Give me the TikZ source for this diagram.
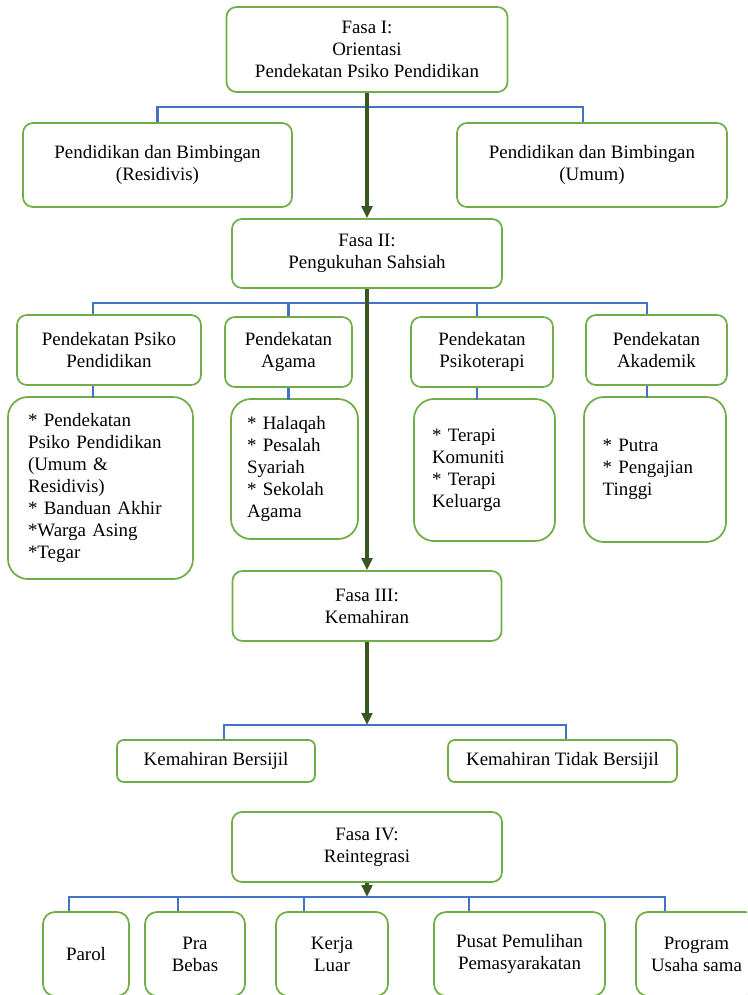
\documentclass[tikz,border=0pt]{standalone}
\usepackage{fontspec}
\setmainfont{Liberation Serif}
\usepackage{tikz}
\usetikzlibrary{arrows.meta}
\usetikzlibrary{positioning}
\usepackage{xcolor}

\definecolor{boxgreen}{RGB}{112,173,71}
\definecolor{linkblue}{RGB}{68,114,196}
\definecolor{trunkgreen}{RGB}{56,87,35}

\begin{document}
\begin{tikzpicture}[x=0.75pt,y=-0.75pt,font=\fontsize{14.2}{16.4}\selectfont]
  \tikzset{fasa/.style = {shape=rectangle,draw=boxgreen,line width=1.3pt,rounded corners=7.5pt,minimum width=202.5pt,minimum height=52.5pt,align=center,inner sep=2pt}}
    \tikzset{sub/.style = {shape=rectangle,draw=boxgreen,line width=1.3pt,rounded corners=7.5pt,minimum height=52.5pt,align=center,inner sep=2pt}}
        \tikzset{detail/.style = {shape=rectangle,draw=boxgreen,line width=1.3pt,rounded corners=15pt,align=left,inner xsep=12pt,inner ysep=2pt}}
    \tikzset{skill/.style = {shape=rectangle,draw=boxgreen,line width=1.3pt,rounded corners=5pt,minimum height=31.5pt,align=center,inner sep=2pt}}
  \tikzset{link/.style = {draw=linkblue,line width=1.9pt}}
  \tikzset{trunk/.style = {draw=trunkgreen,line width=2.6pt,-tipT}}
  \tikzset{%
  tipT/.tip={Triangle[length=9pt,width=8pt]},
}

  \clip (0,0) rectangle (747,995);

	\node[fasa,minimum width=210.75pt,minimum height=63.75pt] (F1) at (367,49.5) {Fasa I:\\Orientasi\\Pendekatan Psiko Pendidikan};
	\node[sub,minimum width=201.75pt,minimum height=63pt] (RES) at (157.5,165) {Pendidikan dan Bimbingan\\(Residivis)};
	\node[sub,minimum width=202.5pt,minimum height=63pt] (UMUM) at (592,165) {Pendidikan dan Bimbingan\\(Umum)};

	\node[fasa,minimum height=51.75pt] (F2) at (367,253.5) {Fasa II:\\Pengukuhan Sahsiah};

	\node[sub,minimum width=138pt] (PA) at (109,350) {Pendekatan Psiko\\Pendidikan};
	\node[sub,minimum width=95.25pt] (PB) at (288.5,352) {Pendekatan\\Agama};
	\node[sub,minimum width=106.5pt] (PC) at (482,352) {Pendekatan\\Psikoterapi};
	\node[sub,minimum width=105.75pt] (PD) at (656.5,350) {Pendekatan\\Akademik};

	\node[detail,inner xsep=15pt,text width=108.75pt,minimum height=136.5pt] (DA) at (100.5,488) {* Pendekatan\\Psiko Pendidikan\\(Umum \&\\Residivis)\\{}* Banduan Akhir\\{}*Warga Asing\\{}*Tegar};
	\node[detail,text width=71.25pt,minimum height=105pt] (DB) at (294.5,469) {* Halaqah\\{}* Pesalah\\Syariah\\{}* Sekolah\\Agama};
	\node[detail,inner xsep=13.5pt,text width=78.75pt,minimum height=106.5pt] (DC) at (484.5,470) {* Terapi\\Komuniti\\{}* Terapi\\Keluarga};
	\node[detail,inner xsep=14pt,text width=78.5pt,minimum height=108.75pt] (DD) at (655,469.5) {* Putra\\{}* Pengajian\\Tinggi};

	\node[fasa,minimum width=201.75pt] (F3) at (367,606) {Fasa III:\\Kemahiran};

	\node[skill,minimum width=148.5pt] (KB) at (216,761) {Kemahiran Bersijil};
	\node[skill,minimum width=171.75pt] (KT) at (562.5,761) {Kemahiran Tidak Bersijil};

	\node[fasa] (F4) at (367,847) {Fasa IV:\\Reintegrasi};

	\node[sub,minimum width=64.5pt,minimum height=63pt,rounded corners=9pt] (PAROL) at (86,954) {Parol};
	\node[sub,minimum width=75pt,minimum height=63pt,rounded corners=9pt] (PRA) at (195,954) {Pra\\Bebas};
	\node[sub,minimum width=84pt,minimum height=63pt,rounded corners=9pt] (KERJA) at (332,954) {Kerja\\Luar};
	\node[sub,minimum width=128.25pt,minimum height=63pt,rounded corners=9pt] (PUSAT) at (519.5,954) {Pusat Pemulihan\\Pemasyarakatan};
	\node[sub,minimum width=90.75pt,minimum height=63pt,rounded corners=9pt] (PROGRAM) at (696.5,954) {Program\\Usaha sama};

	\coordinate (B1) at (367,107);
	\coordinate (B2) at (367,303);
	\coordinate (B3) at (367,725);
	\coordinate (B4) at (367,897);

    \foreach \to/\s in {RES/0pt,UMUM/-6.75pt}
    \draw[link] ([xshift=\s]\to.north) |- (B1);

    \foreach \to/\s in {PA/-12pt,PB/0pt,PC/-3.75pt,PD/-7pt}
    {\draw[link] ([xshift=\s]\to.north) |- (B2);
     \draw[link] ([xshift=\s]\to.south) -- ++(0,12);}

    \foreach \to/\s in {KB/6pt,KT/2.6pt}
    \draw[link] ([xshift=\s]\to.north) |- (B3);

    \foreach \to/\s in {PAROL/-12.75pt,PRA/-12.75pt,KERJA/-21pt,PUSAT/-37.9pt,PROGRAM/-23.6pt}
    \draw[link] ([xshift=\s]\to.north) |- (B4);

    \foreach \from/\to in {F1.south/F2.north,F2.south/F3.north,F3.south/B3,F4.south/B4}
    \draw[trunk] (\from) -- (\to);

\end{tikzpicture}
\end{document}
